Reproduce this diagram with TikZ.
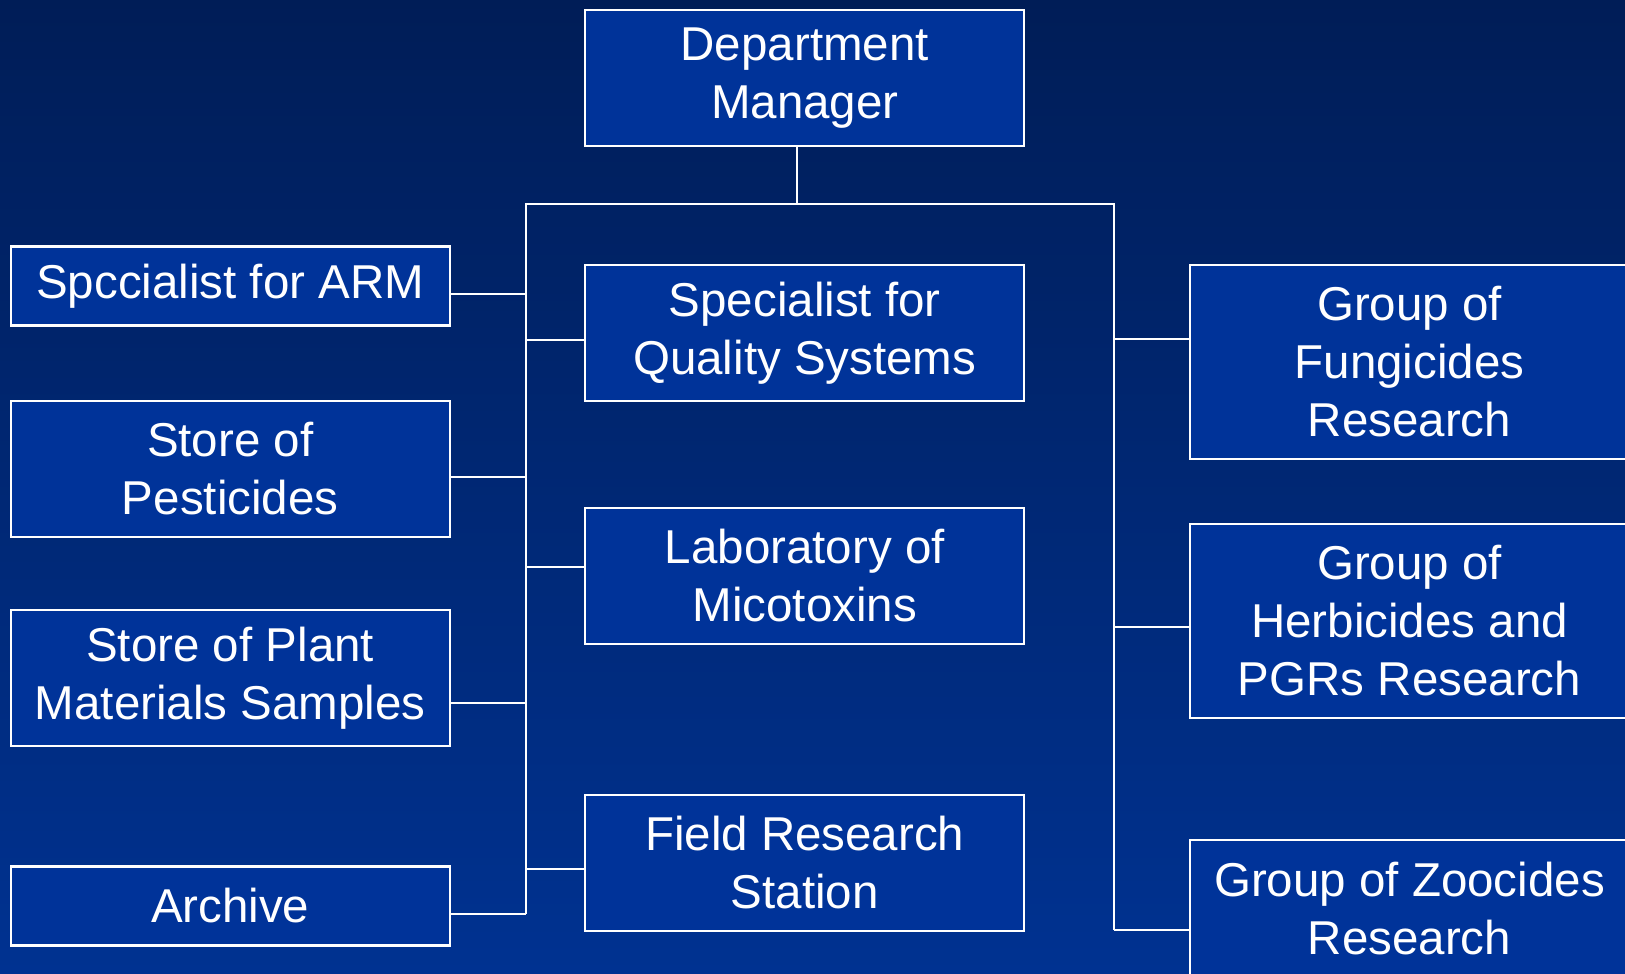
\documentclass[tikz,border=0pt]{standalone}
\usepackage{fontspec}
\setmainfont{Liberation Sans}
\definecolor{navytop}{RGB}{0,29,87}
\definecolor{navybot}{RGB}{0,50,145}
\definecolor{boxblue}{RGB}{0,51,153}
\tikzset{
  unit/.style={draw=white, line width=1.2pt, fill=boxblue, text=white, align=center, inner sep=0pt, minimum width=219.5pt},
  link/.style={draw=white, line width=1pt}
}

\begin{document}
\begin{tikzpicture}[x=0.5pt, y=-0.5pt, font=\fontsize{23.75}{29}\selectfont]
        \shade[top color=navytop, bottom color=navybot] (0,0) rectangle (1625,973);
        \useasboundingbox (0,0) rectangle (1625,973);
        \clip (0,0) rectangle (1625,973);

        % head
        \node[unit, minimum height=68pt] (mgr) at (804.75,78) {Department\\Manager};

        % left column
        \node[unit, minimum height=39.5pt] (arm) at (230.2,286) {Spccialist for ARM};
        \node[unit, minimum height=68pt] (pest) at (230.2,469) {Store of\\Pesticides};
        \node[unit, minimum height=68pt] (plant) at (230.2,678) {Store of Plant\\Materials Samples};
        \node[unit, minimum height=39.5pt] (arch) at (230.2,906) {Archive};

        % middle column
        \node[unit, minimum height=68pt] (qual) at (804.75,333) {Specialist for\\Quality Systems};
        \node[unit, minimum height=68pt] (lab) at (804.75,576) {Laboratory of\\Micotoxins};
        \node[unit, minimum height=68pt] (field) at (804.75,863) {Field Research\\Station};

        % right column
        \node[unit, minimum height=97pt] (fung) at (1409.5,362) {Group of\\Fungicides\\Research};
        \node[unit, minimum height=97pt] (herb) at (1409.5,621) {Group of\\Herbicides and\\PGRs Research};
        \node[unit, minimum height=69pt] (zoo) at (1409.5,909) {Group of Zoocides\\Research};

        % bus lines
        \coordinate (stem) at (797,204);
        \coordinate (lbus) at (525.5,204);
        \coordinate (rbus) at (1114,204);
        \coordinate (lend) at (525.5,914);
        \coordinate (rend) at (1114,930);
        \draw[link] (mgr.south -| stem) -- (stem);
        \draw[link] (lend) -- (lbus) -- (rbus) -- (rend);

        \foreach \n/\y in {arm/294,pest/477,plant/703,arch/914}
            \draw[link] (\n.east |- 0,\y) -- (lbus |- 0,\y);
        \foreach \n/\y in {qual/340,lab/567,field/869}
            \draw[link] (lbus |- 0,\y) -- (\n.west |- 0,\y);
        \foreach \n/\y in {fung/339,herb/627,zoo/930}
            \draw[link] (rbus |- 0,\y) -- (\n.west |- 0,\y);
    \end{tikzpicture}
\end{document}
